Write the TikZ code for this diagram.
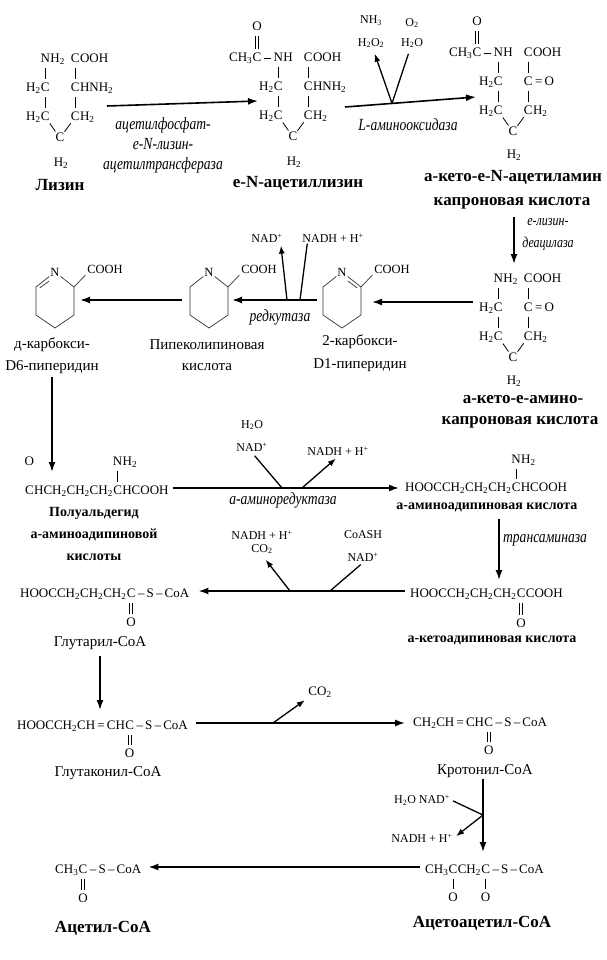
\documentclass[tikz,border=0pt]{standalone}
\usepackage{fontspec}
\setmainfont{Liberation Serif}
\newfontfamily\enzfont{Liberation Serif}[FakeStretch=0.8]
\usetikzlibrary{positioning,arrows.meta}
\newcommand{\ix}[1]{\textsubscript{#1}}
\newcommand{\px}{\textsuperscript{+}}
\newcommand{\fchem}{\fontsize{13}{15}\selectfont}
\newcommand{\fring}{\fontsize{12.5}{14}\selectfont}
\newcommand{\fsm}{\fontsize{12}{14}\selectfont}
\newcommand{\fbig}{\fontsize{17}{20}\selectfont\bfseries}
\newcommand{\fmid}{\fontsize{14}{17}\selectfont\bfseries}
\newcommand{\freg}{\fontsize{15}{18}\selectfont}
\newcommand{\fenz}{\enzfont\itshape\fontsize{17}{20}\selectfont}
\newcommand{\fenzs}{\enzfont\itshape\fontsize{15}{22}\selectfont}
\begin{document}
\begin{tikzpicture}[x=1pt,y=-1pt,>={Latex[length=10pt,width=7pt]},
		atom/.style={inner xsep=0pt,inner ysep=1.5pt,text height=9pt,text depth=2.5pt,font=\fchem},
		ringat/.style={inner sep=1pt,font=\fring},
		bond/.style={line width=0.8pt,shorten <=2pt,shorten >=2pt},
		diag/.style={line width=0.8pt},
		dbond/.style={line width=0.8pt,double,double distance=2.2pt,shorten <=2pt,shorten >=2pt},
		cyc/.style={line width=0.7pt,black!80,line join=round},
		rxn/.style={line width=1.6pt,->},
		side/.style={line width=1.3pt},
		sidearr/.style={line width=1.3pt,-{Latex[length=8pt,width=6pt]}},
		reag/.style={inner sep=1pt,font=\fsm},
		enz/.style={inner sep=0pt,font=\fenz,align=center},
		big/.style={inner sep=0pt,font=\fbig},
		mid/.style={inner sep=0pt,font=\fmid},
		reg/.style={inner sep=0pt,font=\freg}]
	\useasboundingbox (0,0) rectangle (606,960);

	% lysine
	\begin{scope}[shift={(27,58)}]
		\node[atom] (l1) at (18.3,1) {N};
		\node[atom,right=0pt of l1] (l1h) {H\ix2};
		\node[atom] (l2) at (48.3,1) {C};
		\node[atom,right=0pt of l2] (l2h) {OOH};
		\node[atom] (l3) at (18.3,30) {C};
		\node[atom,left=0pt of l3] (l3h) {H\ix2};
		\node[atom] (l4) at (48.3,30) {C};
		\node[atom,right=0pt of l4] (l4h) {HNH\ix2};
		\node[atom] (l5) at (18.3,59) {C};
		\node[atom,left=0pt of l5] (l5h) {H\ix2};
		\node[atom] (l6) at (48.3,59) {C};
		\node[atom,right=0pt of l6] (l6h) {H\ix2};
		\node[atom] (l7) at (33,80) {C};
		\node[atom] (l8) at (34,105) {H\ix2};
	\end{scope}
	\draw[bond] (l1) edge (l3) (l3) edge (l5) (l2) edge (l4) (l4) edge (l6);
	\draw[diag] (l5) edge (l7) (l7) edge (l6);
	\node[big] (n1) at (60,185) {Лизин};

	% e-N-acetyllysine
	\begin{scope}[shift={(260,57)}]
		\node[atom] (ea0) at (-3,1) {C};
		\node[atom,left=0pt of ea0] (ea0h) {CH\ix3};
		\node[atom] (ea0o) at (-3,-30) {O};
		\node[atom] (ea1) at (18.3,1) {N};
		\node[atom,right=0pt of ea1] (ea1h) {H};
		\node[atom] (ea2) at (48.3,1) {C};
		\node[atom,right=0pt of ea2] (ea2h) {OOH};
		\node[atom] (ea3) at (18.3,30) {C};
		\node[atom,left=0pt of ea3] (ea3h) {H\ix2};
		\node[atom] (ea4) at (48.3,30) {C};
		\node[atom,right=0pt of ea4] (ea4h) {HNH\ix2};
		\node[atom] (ea5) at (18.3,59) {C};
		\node[atom,left=0pt of ea5] (ea5h) {H\ix2};
		\node[atom] (ea6) at (48.3,59) {C};
		\node[atom,right=0pt of ea6] (ea6h) {H\ix2};
		\node[atom] (ea7) at (33,80) {C};
		\node[atom] (ea8) at (34,105) {H\ix2};
	\end{scope}
	\draw[bond] (ea0) edge (ea1) (ea1) edge (ea3) (ea3) edge (ea5) (ea2) edge (ea4) (ea4) edge (ea6);
	\draw[dbond] (ea0) -- (ea0o);
	\draw[diag] (ea5) edge (ea7) (ea7) edge (ea6);
	\node[big] (n2) at (298,183) {е-N-ацетиллизин};

	% a-keto-e-N-acetylamino caproic acid
	\begin{scope}[shift={(480,52)}]
		\node[atom] (ka0) at (-3,1) {C};
		\node[atom,left=0pt of ka0] (ka0h) {CH\ix3};
		\node[atom] (ka0o) at (-3,-30) {O};
		\node[atom] (ka1) at (18.3,1) {N};
		\node[atom,right=0pt of ka1] (ka1h) {H};
		\node[atom] (ka2) at (48.3,1) {C};
		\node[atom,right=0pt of ka2] (ka2h) {OOH};
		\node[atom] (ka3) at (18.3,30) {C};
		\node[atom,left=0pt of ka3] (ka3h) {H\ix2};
		\node[atom] (ka4) at (48.3,30) {C};
		\node[atom,right=0pt of ka4] (ka4h) {\,=\,O};
		\node[atom] (ka5) at (18.3,59) {C};
		\node[atom,left=0pt of ka5] (ka5h) {H\ix2};
		\node[atom] (ka6) at (48.3,59) {C};
		\node[atom,right=0pt of ka6] (ka6h) {H\ix2};
		\node[atom] (ka7) at (33,80) {C};
		\node[atom] (ka8) at (34,103) {H\ix2};
	\end{scope}
	\draw[bond] (ka0) edge (ka1) (ka1) edge (ka3) (ka3) edge (ka5) (ka2) edge (ka4) (ka4) edge (ka6);
	\draw[dbond] (ka0) -- (ka0o);
	\draw[diag] (ka5) edge (ka7) (ka7) edge (ka6);
	\node[big] (n3) at (513,177) {а-кето-е-N-ацетиламин};
	\node[big] (n4) at (512,203) {капроновая кислота};

	% a-keto-e-amino caproic acid
	\begin{scope}[shift={(480,278)}]
		\node[atom] (km1) at (18.3,1) {N};
		\node[atom,right=0pt of km1] (km1h) {H\ix2};
		\node[atom] (km2) at (48.3,1) {C};
		\node[atom,right=0pt of km2] (km2h) {OOH};
		\node[atom] (km3) at (18.3,30) {C};
		\node[atom,left=0pt of km3] (km3h) {H\ix2};
		\node[atom] (km4) at (48.3,30) {C};
		\node[atom,right=0pt of km4] (km4h) {\,=\,O};
		\node[atom] (km5) at (18.3,59) {C};
		\node[atom,left=0pt of km5] (km5h) {H\ix2};
		\node[atom] (km6) at (48.3,59) {C};
		\node[atom,right=0pt of km6] (km6h) {H\ix2};
		\node[atom] (km7) at (33,80) {C};
		\node[atom] (km8) at (34,103) {H\ix2};
	\end{scope}
	\draw[bond] (km1) edge (km3) (km3) edge (km5) (km2) edge (km4) (km4) edge (km6);
	\draw[diag] (km5) edge (km7) (km7) edge (km6);
	\node[big] (n5) at (523,400) {а-кето-е-амино-};
	\node[big] (n6) at (520,422) {капроновая кислота};

	% rings
	\begin{scope}[shift={(342,301)}]
		\node[ringat] (r1n) at (0,-29) {N};
		\coordinate (r1a) at (19,-14);
		\coordinate (r1b) at (19,14);
		\coordinate (r1c) at (0,27);
		\coordinate (r1d) at (-19,14);
		\coordinate (r1e) at (-19,-14);
		\coordinate (r1p) at (5.8,-20);
		\coordinate (r1q) at (15.3,-13);
		\node[ringat] (r1co) at (50,-32) {COOH};
	\end{scope}
	\draw[cyc] (r1n) -- (r1a) -- (r1b) -- (r1c) -- (r1d) -- (r1e) -- (r1n);
	\draw[cyc] (r1p) -- (r1q);
	\draw[cyc,shorten >=1pt] (r1a) -- (r1co.south west);
	\node[reg] (n7) at (360,342) {2-карбокси-};
	\node[reg] (n8) at (360,365) {D1-пиперидин};

	\begin{scope}[shift={(209,301)}]
		\node[ringat] (r2n) at (0,-29) {N};
		\coordinate (r2a) at (19,-14);
		\coordinate (r2b) at (19,14);
		\coordinate (r2c) at (0,27);
		\coordinate (r2d) at (-19,14);
		\coordinate (r2e) at (-19,-14);
		\node[ringat] (r2co) at (50,-32) {COOH};
	\end{scope}
	\draw[cyc] (r2n) -- (r2a) -- (r2b) -- (r2c) -- (r2d) -- (r2e) -- (r2n);
	\draw[cyc,shorten >=1pt] (r2a) -- (r2co.south west);
	\node[reg] (n9) at (207,345) {Пипеколипиновая};
	\node[reg] (n10) at (207,367) {кислота};

	\begin{scope}[shift={(55,301)}]
		\node[ringat] (r3n) at (0,-29) {N};
		\coordinate (r3a) at (19,-14);
		\coordinate (r3b) at (19,14);
		\coordinate (r3c) at (0,27);
		\coordinate (r3d) at (-19,14);
		\coordinate (r3e) at (-19,-14);
		\coordinate (r3p) at (-5.8,-20);
		\coordinate (r3q) at (-15.3,-13);
		\node[ringat] (r3co) at (50,-32) {COOH};
	\end{scope}
	\draw[cyc] (r3n) -- (r3a) -- (r3b) -- (r3c) -- (r3d) -- (r3e) -- (r3n);
	\draw[cyc] (r3p) -- (r3q);
	\draw[cyc,shorten >=1pt] (r3a) -- (r3co.south west);
	\node[reg] (n11) at (52,345) {д-карбокси-};
	\node[reg] (n12) at (52,367) {D6-пиперидин};

	% semialdehyde and aminoadipate
	\node[atom] (sa1) at (29.4,491) {C};
	\node[atom,right=0pt of sa1] (sa2) {HCH\ix2CH\ix2CH\ix2};
	\node[atom,right=0pt of sa2] (sa3) {C};
	\node[atom,right=0pt of sa3] (sa4) {HCOOH};
	\node[atom] (sao) at (29.4,462) {O};
	\node[atom] (san) at (sa3 |- 0,462) {N};
	\node[atom,right=0pt of san] (sanh) {H\ix2};
	\draw[dbond] (sao) -- (sa1);
	\draw[bond] (san) -- (sa3);
	\node[mid] (n13) at (94,513) {Полуальдегид};
	\node[mid] (n14) at (94,535) {а-аминоадипиновой};
	\node[mid] (n15) at (94,557) {кислоты};

	\node[atom,anchor=west] (q1) at (405,488) {HOOCCH\ix2CH\ix2CH\ix2};
	\node[atom,right=0pt of q1] (q2) {C};
	\node[atom,right=0pt of q2] (q3) {HCOOH};
	\node[atom] (qn) at (q2 |- 0,460) {N};
	\node[atom,right=0pt of qn] (qnh) {H\ix2};
	\draw[bond] (qn) -- (q2);
	\node[mid] (n16) at (487,507) {а-аминоадипиновая кислота};

	% ketoadipate and glutaryl-CoA
	\node[atom,anchor=west] (r1) at (410,594) {HOOCCH\ix2CH\ix2CH\ix2};
	\node[atom,right=0pt of r1] (r2) {C};
	\node[atom,right=0pt of r2] (r3) {COOH};
	\node[atom] (ro) at (r2 |- 0,624) {O};
	\draw[dbond] (r2) -- (ro);
	\node[mid] (n17) at (492,640) {а-кетоадипиновая кислота};

	\node[atom,anchor=west] (s1) at (20,594) {HOOCCH\ix2CH\ix2CH\ix2};
	\node[atom,right=0pt of s1] (s2) {C};
	\node[atom,right=0pt of s2] (s3) {\,–\,S\,–\,CoA};
	\node[atom] (so) at (s2 |- 0,623) {O};
	\draw[dbond] (s2) -- (so);
	\node[reg] (n18) at (100,643) {Глутарил-CoA};

	% glutaconyl-CoA and crotonyl-CoA
	\node[atom,anchor=west] (t1) at (17,726) {HOOCCH\ix2CH\,=\,CH};
	\node[atom,right=0pt of t1] (t2) {C};
	\node[atom,right=0pt of t2] (t3) {\,–\,S\,–\,CoA};
	\node[atom] (to) at (t2 |- 0,754) {O};
	\draw[dbond] (t2) -- (to);
	\node[reg] (n19) at (108,773) {Глутаконил-CoA};

	\node[atom,anchor=west] (u1) at (413,723) {CH\ix2CH\,=\,CH};
	\node[atom,right=0pt of u1] (u2) {C};
	\node[atom,right=0pt of u2] (u3) {\,–\,S\,–\,CoA};
	\node[atom] (uo) at (u2 |- 0,751) {O};
	\draw[dbond] (u2) -- (uo);
	\node[reg] (n20) at (485,771) {Кротонил-CoA};

	% acetoacetyl-CoA and acetyl-CoA
	\node[atom,anchor=west] (v1) at (425,870) {CH\ix3};
	\node[atom,right=0pt of v1] (v2) {C};
	\node[atom,right=0pt of v2] (v3) {CH\ix2};
	\node[atom,right=0pt of v3] (v4) {C};
	\node[atom,right=0pt of v4] (v5) {\,–\,S\,–\,CoA};
	\node[atom] (vo1) at (v2 |- 0,898) {O};
	\node[atom] (vo2) at (v4 |- 0,898) {O};
	\draw[dbond] (v2) edge (vo1) (v4) edge (vo2);
	\node[big] (n21) at (482,923) {Ацетоацетил-CoA};

	\node[atom,anchor=west] (w1) at (55,870) {CH\ix3};
	\node[atom,right=0pt of w1] (w2) {C};
	\node[atom,right=0pt of w2] (w3) {\,–\,S\,–\,CoA};
	\node[atom] (wo) at (w2 |- 0,899) {O};
	\draw[dbond] (w2) -- (wo);
	\node[big] (n22) at (103,928) {Ацетил-CoA};

	% enzymes
	\node[enz] (e1) at (163,145) {ацетилфосфат-\\е-N-лизин-\\ацетилтрансфераза};
	\node[enz] (e2) at (408,125) {L-аминооксидаза};
	\node[enz,font=\fenzs] (e3) at (548,234) {е-лизин-\\деацилаза};
	\node[enz] (e4) at (280,317) {редкутаза};
	\node[enz] (e5) at (283,500) {а-аминоредуктаза};
	\node[enz] (e6) at (545,540) {трансаминаза};

	% cofactors
	\node[reag] (g1) at (371,21) {NH\ix3};
	\node[reag] (g2) at (371,43) {H\ix2O\ix2};
	\node[reag] (g3) at (412,23) {O\ix2};
	\node[reag] (g4) at (412,43) {H\ix2O};
	\node[reag] (g5) at (267,238) {NAD\px};
	\node[reag] (g6) at (333,238) {NADH + H\px};
	\node[reag] (g7) at (252,425) {H\ix2O};
	\node[reag] (g8) at (252,447) {NAD\px};
	\node[reag] (g9) at (338,451) {NADH + H\px};
	\node[reag] (g10) at (262,535) {NADH + H\px};
	\node[reag] (g11) at (262,549) {CO\ix2};
	\node[reag] (g12) at (363,535) {CoASH};
	\node[reag] (g13) at (363,557) {NAD\px};
	\node[reag,font=\fchem] (g14) at (320,692) {CO\ix2};
	\node[reag] (g15) at (422,800) {H\ix2O NAD\px};
	\node[reag] (g16) at (422,838) {NADH + H\px};

	% reaction arrows
	\coordinate (a1s) at (107,106);
	\coordinate (a1e) at (258,101);
	\coordinate (a2s) at (345,107);
	\coordinate (a2e) at (476,97);
	\coordinate (b2) at (392,103.4);
	\coordinate (a3s) at (514,217);
	\coordinate (a3e) at (514,264);
	\coordinate (a4s) at (473,302);
	\coordinate (a4e) at (372,302);
	\coordinate (a5s) at (317,300);
	\coordinate (a5e) at (232,300);
	\coordinate (b5a) at (287,300);
	\coordinate (b5b) at (300,300);
	\coordinate (a6s) at (182,300);
	\coordinate (a6e) at (80,300);
	\coordinate (a7s) at (52,377);
	\coordinate (a7e) at (52,472);
	\coordinate (b8a) at (282,488);
	\coordinate (b8b) at (302,488);
	\coordinate (a9s) at (499,519);
	\coordinate (a9e) at (499,580);
	\coordinate (b10a) at (330,591);
	\coordinate (b10b) at (290,591);
	\coordinate (a11s) at (100,656);
	\coordinate (a11e) at (100,710);
	\coordinate (b12) at (273,723);
	\coordinate (a13s) at (483,779);
	\coordinate (a13e) at (483,852);
	\coordinate (b13) at (483,815);

	\draw[rxn] (a1s) -- (a1e);
	\draw[rxn] (a2s) -- (a2e);
	\draw[side,shorten <=5pt] (g4) -- (b2);
	\draw[sidearr,shorten >=5pt] (b2) -- (g2);
	\draw[rxn] (a3s) -- (a3e);
	\draw[rxn] (a4s) -- (a4e);
	\draw[rxn] (a5s) -- (a5e);
	\draw[sidearr,shorten >=2pt] (b5a) -- ([xshift=-3pt]g5.south east);
	\draw[side] ([xshift=6pt]g6.south west) -- (b5b);
	\draw[rxn] (a6s) -- (a6e);
	\draw[rxn] (a7s) -- (a7e);
	\draw[rxn] ([xshift=4pt,yshift=3pt]sa4.east) -- ([xshift=-6pt]q1.west);
	\draw[side,shorten <=4pt] (g8.south) -- (b8a);
	\draw[sidearr,shorten >=3pt] (b8b) -- (g9.south);
	\draw[rxn] (a9s) -- (a9e);
	\draw[rxn] ([xshift=-5pt,yshift=3pt]r1.west) -- ([xshift=9pt,yshift=3pt]s3.east);
	\draw[side,shorten <=3pt] (g13.south) -- (b10a);
	\draw[sidearr,shorten >=6pt] (b10b) -- (g11.south);
	\draw[rxn] (a11s) -- (a11e);
	\draw[rxn] ([xshift=8pt,yshift=3pt]t3.east) -- ([xshift=-8pt]u1.west);
	\draw[sidearr,shorten >=3pt] (b12) -- (g14.south west);
	\draw[rxn] (a13s) -- (a13e);
	\draw[side,shorten <=2pt] (g15.east) -- (b13);
	\draw[sidearr,shorten >=3pt] (b13) -- (g16.east);
	\draw[rxn] ([xshift=-5pt,yshift=3pt]v1.west) -- ([xshift=7pt,yshift=3pt]w3.east);
\end{tikzpicture}
\end{document}
